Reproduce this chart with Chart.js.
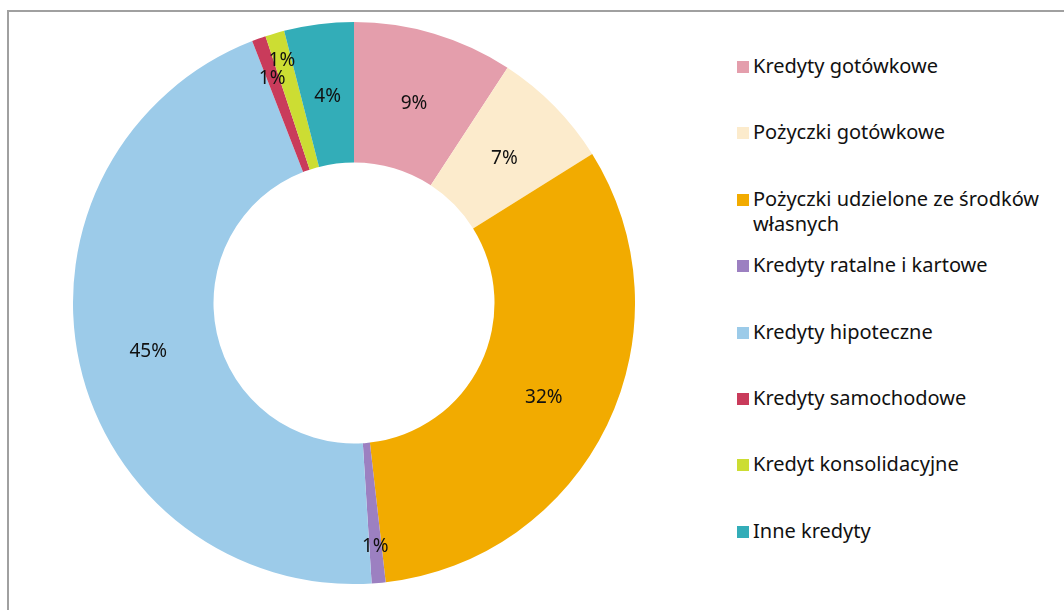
<!DOCTYPE html>
<html>
<head>
<meta charset="utf-8">
<script src="https://cdn.jsdelivr.net/npm/chart.js@4"></script>
<style>
    body { margin: 0; background: #fff; width: 1064px; height: 610px; overflow: hidden; position: relative; font-family: "Noto Sans", "Open Sans", sans-serif; }
    #frame { position: absolute; left: 7px; top: 10px; width: 1100px; height: 700px; border-left: 2px solid #a0a0a0; border-top: 2px solid #a0a0a0; }
    #chartBox { position: absolute; left: 73px; top: 22px; width: 562px; height: 562px; }
    #legend { position: absolute; left: 737px; top: 53px; margin: 0; padding: 0; list-style: none; }
    #legend li { height: 66.4px; display: flex; align-items: flex-start; font-size: 20px; line-height: 25px; color: #111; white-space: nowrap; }
    #legend span.box { display: inline-block; width: 12px; height: 12px; margin: 8px 4px 0 0; flex: none; }
</style>
</head>
<body>
<div id="frame"></div>
<div id="chartBox"><canvas id="chart-area"></canvas></div>
<ul id="legend"></ul>
<script>
// Categories (multi-line labels kept as arrays)
var categories = [
    'Kredyty gotówkowe',
    'Pożyczki gotówkowe',
    ['Pożyczki udzielone ze środków', 'własnych'],
    'Kredyty ratalne i kartowe',
    'Kredyty hipoteczne',
    'Kredyty samochodowe',
    'Kredyt konsolidacyjne',
    'Inne kredyty'
];
// Shares in percent
var shares = [9.2, 6.9, 32.1, 0.8, 45.1, 0.8, 1.1, 4.0];
var colours = ['#E49EAC', '#FCEBCC', '#F2AB00', '#9C80C1', '#9CCBE9', '#C93B5B', '#CCDD33', '#33ADB8'];

// Draws percentage labels on the slices, small slices pushed outwards
var sliceLabels = {
    id: 'sliceLabels',
    afterDatasetsDraw: function (chart) {
        var ctx = chart.ctx;
        var meta = chart.getDatasetMeta(0);
        var data = chart.data.datasets[0].data;
        var total = data.reduce(function (a, b) { return a + b; }, 0);
        ctx.save();
        ctx.font = '19px "Noto Sans", "Open Sans", sans-serif';
        ctx.fillStyle = '#111';
        ctx.textAlign = 'center';
        ctx.textBaseline = 'middle';
        var prevSmall = false;
        for (var i = 0; i < meta.data.length; i++) {
            var arc = meta.data[i];
            var share = data[i] / total;
            var mid = (arc.startAngle + arc.endAngle) / 2;
            var r = (arc.innerRadius + arc.outerRadius) / 2;
            var small = share < 0.02;
            if (small) {
                r = arc.outerRadius * (prevSmall ? 0.91 : 0.86);
            }
            prevSmall = small;
            var x = arc.x + Math.cos(mid) * r;
            var y = arc.y + Math.sin(mid) * r + 3;
            ctx.fillText(Math.round(share * 100) + '%', x, y);
        }
        ctx.restore();
    }
};

function buildLegend(chart) {
    var ul = document.getElementById('legend');
    ul.innerHTML = '';
    var labels = chart.data.labels;
    for (var i = 0; i < labels.length; i++) {
        var li = document.createElement('li');
        var box = document.createElement('span');
        box.className = 'box';
        box.style.background = chart.data.datasets[0].backgroundColor[i];
        var txt = document.createElement('span');
        var lines = Array.isArray(labels[i]) ? labels[i] : [labels[i]];
        txt.innerHTML = lines.join('<br>');
        li.appendChild(box);
        li.appendChild(txt);
        ul.appendChild(li);
    }
}

var config = {
    type: 'doughnut',
    data: {
        labels: categories,
        datasets: [{
            data: shares,
            backgroundColor: colours,
            borderWidth: 0
        }]
    },
    options: {
        responsive: true,
        maintainAspectRatio: false,
        animation: false,
        cutout: '50%',
        layout: { padding: 0 },
        plugins: {
            legend: { display: false },
            tooltip: { enabled: false }
        }
    },
    plugins: [sliceLabels]
};
var ctx = document.getElementById('chart-area').getContext('2d');
window.myDoughnut = new Chart(ctx, config);
buildLegend(window.myDoughnut);
</script>
</body>
</html>
